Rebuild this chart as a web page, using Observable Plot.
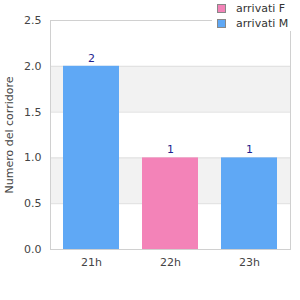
<!DOCTYPE html>
<html><head><meta charset="utf-8">
<script src="https://cdn.jsdelivr.net/npm/d3@7"></script>
<script src="https://cdn.jsdelivr.net/npm/@observablehq/plot@0.6"></script>
<style>
body{margin:0;background:#fff;font-family:"DejaVu Sans",sans-serif;}
#wrap{position:relative;width:300px;height:300px;}
#legend{position:absolute;left:212px;top:0;width:88px;background:#fff;font-size:11px;color:#333;padding-top:1px;}
.item{display:flex;align-items:center;height:15px;}
.sw{width:7px;height:7px;border:1px solid #888;margin-left:5px;margin-right:10px;}
</style></head>
<body><div id="wrap"><div id="chart"></div><div id="legend"></div></div>
<script>
const hours = ["21h","22h","23h"];
const values = [2,1,1];
const series = ["arrivati M","arrivati F","arrivati M"];
const legendNames = ["arrivati F","arrivati M"];
const legendColors = ["#f383b8","#5fa8f5"];
const yTicks = [0,0.5,1,1.5,2,2.5];
const bandLo = [0.5,1.5];
const bandHi = [1.0,2.0];

const data = hours.map((h,i)=>({hour:h,value:values[i],series:series[i]}));
const bands = bandLo.map((lo,i)=>({y1:lo,y2:bandHi[i]}));

const chart = Plot.plot({
  width:300,height:300,
  marginLeft:50,marginRight:10,marginTop:20,marginBottom:51,
  style:{fontFamily:"DejaVu Sans",fontSize:"11px",color:"#444"},
  x:{domain:hours,paddingInner:0.29,paddingOuter:0.16,label:null,tickSize:0,tickPadding:9},
  y:{domain:[0,2.5],ticks:yTicks,tickFormat:d3.format(".1f"),tickSize:0,tickPadding:9,
     label:"Numero del corridore",labelAnchor:"center",labelArrow:"none",labelOffset:45},
  color:{domain:legendNames,range:legendColors},
  marks:[
    Plot.rect(bands,{y1:"y1",y2:"y2",fill:"#f2f2f2"}),
    Plot.ruleY(yTicks,{stroke:"#dedede"}),
    Plot.barY(data,{x:"hour",y:"value",fill:"series"}),
    Plot.text(data,{x:"hour",y:"value",text:d=>String(d.value),dy:-8,fill:"#1f1f8f",fontSize:11}),
    Plot.frame({stroke:"#d0d0d0"})
  ]
});
document.getElementById("chart").appendChild(chart);

const lg = document.getElementById("legend");
legendNames.forEach((n,i)=>{
  const it=document.createElement("div");it.className="item";
  const sw=document.createElement("span");sw.className="sw";sw.style.background=legendColors[i];
  const t=document.createElement("span");t.textContent=n;
  it.appendChild(sw);it.appendChild(t);lg.appendChild(it);
});
</script></body></html>
